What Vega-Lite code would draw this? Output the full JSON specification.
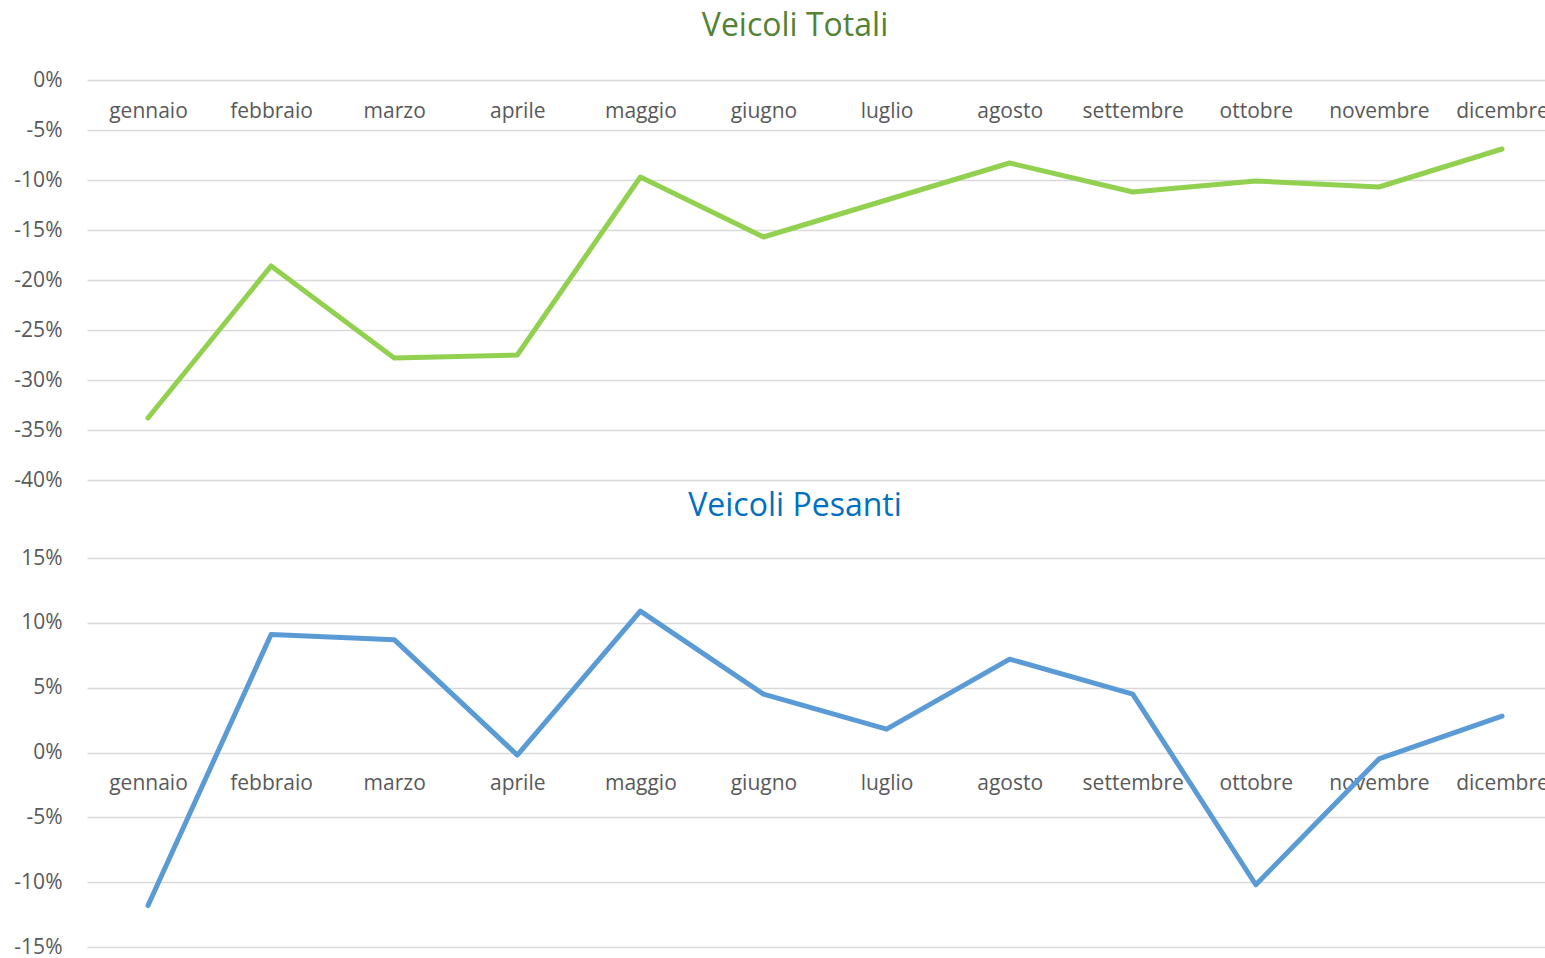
{
  "$schema": "https://vega.github.io/schema/vega-lite/v6.json",
  "padding": {"left": 13, "top": 10, "right": 0, "bottom": 0},
  "spacing": 0,
  "background": "white",
  "config": {
    "view": {"stroke": null},
    "font": "Open Sans",
    "axis": {"labelFont": "Open Sans", "labelColor": "#595959", "labelFontSize": 21, "domain": false, "ticks": false, "tickSize": 0, "title": null}
  },
  "vconcat": [
    {
      "title": {"text": "Veicoli Totali", "color": "#548235", "fontSize": 32, "font": "Open Sans", "fontWeight": "normal", "anchor": "middle", "offset": 26, "dx": -21},
      "width": 1458,
      "height": 400,
      "data": {"values": [
        {"mese": "gennaio", "variazione": -33.8},
        {"mese": "febbraio", "variazione": -18.6},
        {"mese": "marzo", "variazione": -27.8},
        {"mese": "aprile", "variazione": -27.5},
        {"mese": "maggio", "variazione": -9.7},
        {"mese": "giugno", "variazione": -15.7},
        {"mese": "luglio", "variazione": -12.0},
        {"mese": "agosto", "variazione": -8.3},
        {"mese": "settembre", "variazione": -11.2},
        {"mese": "ottobre", "variazione": -10.1},
        {"mese": "novembre", "variazione": -10.7},
        {"mese": "dicembre", "variazione": -6.9}
      ]},
      "mark": {"type": "line", "color": "#92D050", "strokeWidth": 5, "strokeCap": "round", "strokeJoin": "round"},
      "encoding": {
        "x": {"field": "mese", "type": "ordinal", "sort": null,
              "scale": {"type": "point", "padding": 0.4224, "align": 0.5865},
              "axis": {"orient": "bottom", "offset": -400, "labelPadding": 31, "labelBaseline": "middle", "labelAngle": 0, "grid": false}},
        "y": {"field": "variazione", "type": "quantitative",
              "scale": {"domain": [-40, 0], "nice": false, "zero": false},
              "axis": {"values": [-40, -35, -30, -25, -20, -15, -10, -5, 0], "labelExpr": "datum.value + '%'", "labelPadding": 25, "grid": true, "gridColor": "#D9D9D9", "gridWidth": 1.5, "minExtent": 73, "maxExtent": 73}}
      }
    },
    {
      "title": {"text": "Veicoli Pesanti", "color": "#0070C0", "fontSize": 32, "font": "Open Sans", "fontWeight": "normal", "anchor": "middle", "offset": 24, "dx": -21},
      "width": 1458,
      "height": 389,
      "data": {"values": [
        {"mese": "gennaio", "variazione": -11.8},
        {"mese": "febbraio", "variazione": 9.1},
        {"mese": "marzo", "variazione": 8.7},
        {"mese": "aprile", "variazione": -0.2},
        {"mese": "maggio", "variazione": 10.9},
        {"mese": "giugno", "variazione": 4.5},
        {"mese": "luglio", "variazione": 1.8},
        {"mese": "agosto", "variazione": 7.2},
        {"mese": "settembre", "variazione": 4.5},
        {"mese": "ottobre", "variazione": -10.2},
        {"mese": "novembre", "variazione": -0.5},
        {"mese": "dicembre", "variazione": 2.8}
      ]},
      "mark": {"type": "line", "color": "#5B9BD5", "strokeWidth": 5, "strokeCap": "round", "strokeJoin": "round"},
      "encoding": {
        "x": {"field": "mese", "type": "ordinal", "sort": null,
              "scale": {"type": "point", "padding": 0.4224, "align": 0.5865},
              "axis": {"orient": "bottom", "offset": -195, "labelPadding": 31, "labelBaseline": "middle", "labelAngle": 0, "grid": false}},
        "y": {"field": "variazione", "type": "quantitative",
              "scale": {"domain": [-15, 15], "nice": false, "zero": false},
              "axis": {"values": [-15, -10, -5, 0, 5, 10, 15], "labelExpr": "datum.value + '%'", "labelPadding": 25, "grid": true, "gridColor": "#D9D9D9", "gridWidth": 1.5, "minExtent": 73, "maxExtent": 73}}
      }
    }
  ]
}
